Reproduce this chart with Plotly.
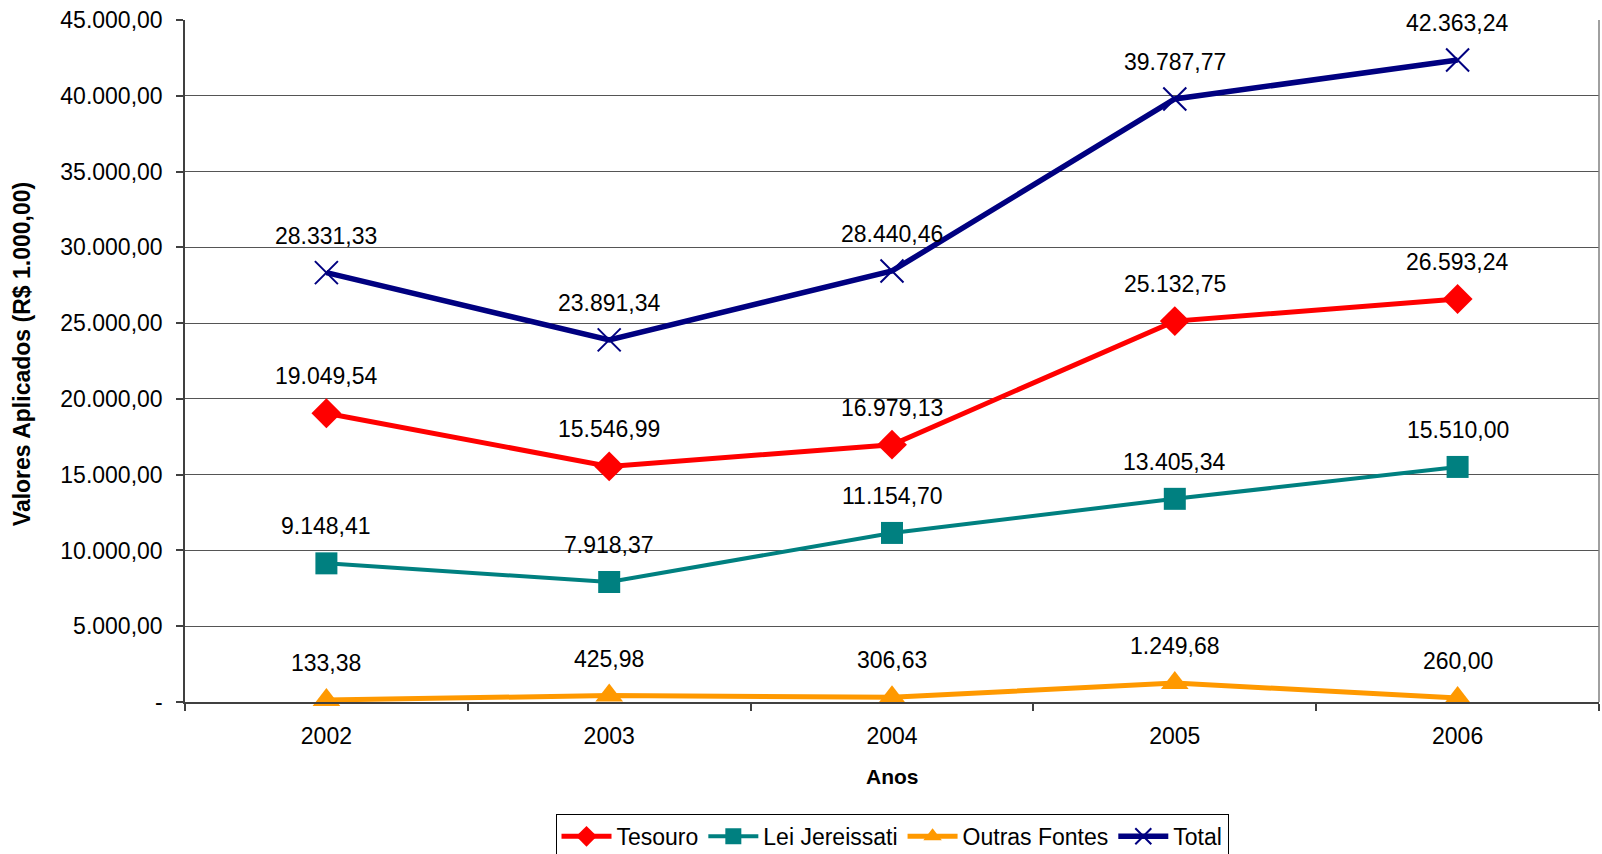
import plotly.graph_objects as go

years = ["2002", "2003", "2004", "2005", "2006"]
tesouro = [19049.54, 15546.99, 16979.13, 25132.75, 26593.24]
lei = [9148.41, 7918.37, 11154.70, 13405.34, 15510.00]
outras = [133.38, 425.98, 306.63, 1249.68, 260.00]
total = [28331.33, 23891.34, 28440.46, 39787.77, 42363.24]
y_ticks = [0, 5000, 10000, 15000, 20000, 25000, 30000, 35000, 40000, 45000]


def br(v):
    s = f"{v:,.2f}"
    return s.replace(",", "X").replace(".", ",").replace("X", ".")


FONT = "Liberation Sans, Arial, sans-serif"

series = [
    ("Tesouro", tesouro, "#FF0000", 5, dict(symbol="diamond", size=23)),
    ("Lei Jereissati", lei, "#008080", 4, dict(symbol="square", size=22)),
    ("Outras Fontes", outras, "#FF9900", 5, dict(symbol="triangle-up", size=24)),
    ("Total", total, "#000080", 5.5, dict(symbol="x-thin", size=23,
                                            line=dict(color="#000080", width=2))),
]

fig = go.Figure()
annotations = []
for name, vals, color, lw, mk in series:
    mk = dict(mk)
    mk["color"] = color
    fig.add_trace(go.Scatter(
        x=years, y=vals, name=name, mode="lines+markers",
        line=dict(color=color, width=lw), marker=mk, cliponaxis=False,
    ))
    for i, v in enumerate(vals):
        annotations.append(dict(
            x=i, y=v, xref="x", yref="y", text=br(v), showarrow=False,
            yshift=37, font=dict(family=FONT, size=23, color="black"),
        ))

annotations.append(dict(
    x=0, y=0.51, xref="paper", yref="paper", xanchor="center", yanchor="middle",
    xshift=-163, textangle=-90, text="<b>Valores Aplicados (R$ 1.000,00)</b>",
    showarrow=False, font=dict(family=FONT, size=23, color="black"),
))
annotations.append(dict(
    x=0.5, y=0, xref="paper", yref="paper", xanchor="center", yanchor="middle",
    yshift=-74, text="<b>Anos</b>", showarrow=False,
    font=dict(family=FONT, size=21, color="black"),
))

fig.update_layout(
    width=1602, height=854,
    margin=dict(l=185, r=3, t=20, b=152, autoexpand=False),
    paper_bgcolor="white", plot_bgcolor="white",
    font=dict(family=FONT, size=23, color="black"),
    showlegend=True,
    legend=dict(
        orientation="h", x=0.5, xanchor="center", xref="paper",
        y=0.047, yanchor="top", yref="container",
        bordercolor="black", borderwidth=1, bgcolor="white",
        font=dict(family=FONT, size=23, color="black"),
        itemwidth=50, tracegroupgap=0,
    ),
    annotations=annotations,
    shapes=[dict(type="line", xref="paper", yref="paper", x0=1, x1=1, y0=0, y1=1,
                 line=dict(color="#808080", width=1.5))],
)

fig.update_xaxes(
    type="category", range=[-0.5, 4.5], tickson="boundaries",
    ticks="outside", ticklen=7, tickcolor="#404040", tickwidth=1.5,
    showline=True, linecolor="#404040", linewidth=1.5,
    showgrid=False, ticklabelstandoff=13, automargin=False,
    tickfont=dict(family=FONT, size=23, color="black"),
)
fig.update_yaxes(
    range=[0, 45000], tickvals=y_ticks,
    ticktext=["-" if v == 0 else br(v) for v in y_ticks],
    ticks="outside", ticklen=7, tickcolor="#404040", tickwidth=1.5,
    showline=True, linecolor="#404040", linewidth=1.5,
    showgrid=True, gridcolor="#555555", gridwidth=1, zeroline=False,
    ticklabelstandoff=9, automargin=False,
    tickfont=dict(family=FONT, size=23, color="black"),
)

fig.write_html(
    "out.html",
    config={"displayModeBar": False},
    post_script="document.body.style.margin='0';document.body.style.overflow='hidden';",
)
